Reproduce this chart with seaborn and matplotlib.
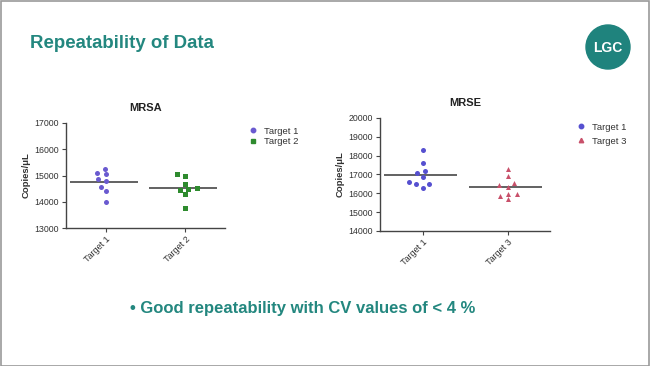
import numpy as np
import pandas as pd
import matplotlib
matplotlib.use("Agg")
import matplotlib.pyplot as plt
from matplotlib.patches import Circle, Rectangle
from matplotlib.lines import Line2D
from matplotlib.collections import PathCollection
import seaborn as sns

# ---- data ----
mrsa_categories = ["Target 1", "Target 2"]
mrsa_target1 = [15260, 15110, 15070, 14870, 14780, 14560, 14400, 13990]
mrsa_target2 = [15045, 14980, 14660, 14535, 14485, 14435, 14283, 13762]
mrsa_yticks = [13000, 14000, 15000, 16000, 17000]

mrse_categories = ["Target 1", "Target 3"]
mrse_target1 = [18306, 17635, 17071, 17194, 16859, 16488, 16488, 16612, 16294]
mrse_target3 = [17318, 16929, 16418, 16524, 16330, 15941, 15835, 15941, 15677]
mrse_yticks = [14000, 15000, 16000, 17000, 18000, 19000, 20000]

TEAL = "#23877f"
C_PURPLE = "#6a5ad0"
C_GREEN = "#2e8b2e"
C_BLUE = "#5650d0"
C_RED = "#c8506a"

sns.set_theme(style="white")
plt.rcParams["font.family"] = ["Liberation Sans", "DejaVu Sans"]

fig = plt.figure(figsize=(6.5, 3.66), dpi=100)
fig.patch.set_facecolor("white")

# slide frame
fig.add_artist(Rectangle((0.001, 0.001), 0.998, 0.996, transform=fig.transFigure,
                         fill=False, edgecolor="#9a9a9a", linewidth=1.2))

fig.text(30 / 650, 1 - 43 / 366, "Repeatability of Data", fontsize=13.4,
         fontweight="bold", color=TEAL, va="center", ha="left")

# logo
logo_ax = fig.add_axes([0, 0, 1, 1], facecolor="none")
logo_ax.set_xlim(0, 650); logo_ax.set_ylim(366, 0); logo_ax.axis("off")
logo_ax.add_patch(Circle((608, 47), 22, color="#1f837d"))
logo_ax.text(608, 47.5, "LGC", color="white", fontsize=10, fontweight="bold",
             ha="center", va="center", fontstretch="condensed")

fig.text(130 / 650, 1 - 309 / 366, "\u2022 Good repeatability with CV values of < 4 %",
         fontsize=12, fontweight="bold", color=TEAL, va="center", ha="left")


def panel(rect, title, cats, v1, v2, colors, markers, yticks, labelpad):
    ax = fig.add_axes(rect)
    df = pd.DataFrame({
        "cat": [cats[0]] * len(v1) + [cats[1]] * len(v2),
        "val": v1 + v2,
    })
    for i, (c, vals) in enumerate([(cats[0], v1), (cats[1], v2)]):
        sub = df[df["cat"] == c]
        sns.swarmplot(data=sub, x="cat", y="val", order=cats, color=colors[i],
                      marker=markers[i], size=3.6, ax=ax, linewidth=0)
        m = np.mean(vals)
        ax.hlines(m, i - 0.45, i + 0.4, color="#555555", linewidth=1.3, zorder=1)
    ax.set_xlim(-0.5, 1.5)
    ax.set_ylim(yticks[0], yticks[-1])
    ax.set_yticks(yticks)
    ax.set_yticklabels([str(t) for t in yticks], fontsize=6.3, color="#333333")
    ax.set_xticks([0, 1])
    ax.set_xticklabels(cats, rotation=45, ha="right", rotation_mode="anchor",
                       fontsize=6.5, color="#333333")
    ax.set_xlabel("")
    ax.set_ylabel("Copies/\u03bcL", fontsize=6.8, fontweight="bold", color="#333333",
                  labelpad=labelpad)
    ax.set_title(title, fontsize=8, fontweight="bold", color="#222222", pad=9)
    sns.despine(ax=ax)
    for s in ["left", "bottom"]:
        ax.spines[s].set_color("#444444")
        ax.spines[s].set_linewidth(1.0)
    ax.tick_params(axis="both", which="major", length=3, width=0.8, color="#444444",
                   direction="out", left=True, bottom=True, pad=2)
    ax.patch.set_alpha(0)
    return ax


ax1 = panel([66 / 650, 1 - 228 / 366, (225 - 66) / 650, (228 - 123) / 366], "MRSA",
            mrsa_categories, mrsa_target1, mrsa_target2, [C_PURPLE, C_GREEN], ["o", "s"],
            mrsa_yticks, 2.5)
ax2 = panel([380 / 650, 1 - 231 / 366, (550 - 380) / 650, (231 - 118) / 366], "MRSE",
            mrse_categories, mrse_target1, mrse_target3, [C_BLUE, C_RED], ["o", "^"],
            mrse_yticks, 2.5)

# widen the swarms a little (GraphPad-style scatter spacing)
fig.canvas.draw()
for ax in (ax1, ax2):
    for coll in ax.collections:
        if isinstance(coll, PathCollection) and "draw" in coll.__dict__:
            off = coll.get_offsets().copy()
            if len(off):
                center = np.round(off[:, 0].mean())
                off[:, 0] = center + (off[:, 0] - center) * 1.7
                coll.set_offsets(off)
            del coll.draw

h1 = [Line2D([], [], linestyle="", marker="o", color=C_PURPLE, markersize=3.2),
      Line2D([], [], linestyle="", marker="s", color=C_GREEN, markersize=3.2)]
fig.legend(h1, ["Target 1", "Target 2"], loc="upper left",
           bbox_to_anchor=(240 / 650, 1 - 118 / 366), frameon=False, fontsize=6.8,
           handlelength=1, handletextpad=0.6, labelspacing=0.15, labelcolor="#333333")
h2 = [Line2D([], [], linestyle="", marker="o", color=C_BLUE, markersize=3.2),
      Line2D([], [], linestyle="", marker="^", color=C_RED, markersize=3.2)]
fig.legend(h2, ["Target 1", "Target 3"], loc="upper left",
           bbox_to_anchor=(568 / 650, 1 - 114 / 366), frameon=False, fontsize=6.8,
           handlelength=1, handletextpad=0.6, labelspacing=0.55, labelcolor="#333333")

fig.savefig("out.png", dpi=100, facecolor="white")
